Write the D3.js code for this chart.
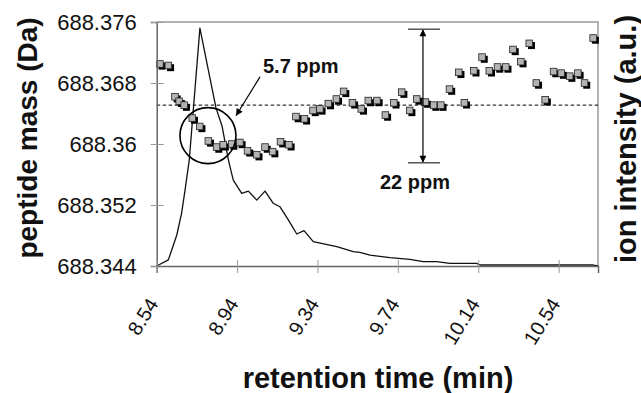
<!DOCTYPE html>
<html><head><meta charset="utf-8">
<script src="https://cdn.jsdelivr.net/npm/d3@7"></script>
<style>body{margin:0;background:#fff}svg{display:block;font-family:"Liberation Sans",Arial,sans-serif}</style>
</head><body><svg id="c" width="641" height="393"></svg>
<script>
// ---- data ----
const times = [8.556,8.598,8.631,8.652,8.677,8.717,8.754,8.797,8.838,8.871,8.913,8.954,8.992,9.038,9.079,9.117,9.156,9.198,9.233,9.275,9.318,9.352,9.394,9.434,9.470,9.514,9.558,9.593,9.636,9.678,9.720,9.759,9.799,9.834,9.877,9.918,9.954,9.997,10.043,10.071,10.118,10.159,10.195,10.236,10.277,10.313,10.352,10.394,10.429,10.473,10.515,10.553,10.595,10.636,10.669,10.712];
const masses = [688.3705,688.3703,688.3662,688.3656,688.3651,688.3634,688.3623,688.3604,688.3596,688.3599,688.3600,688.3602,688.3591,688.3586,688.3596,688.3590,688.3603,688.3599,688.3636,688.3633,688.3644,688.3646,688.3653,688.3659,688.3669,688.3654,688.3646,688.3657,688.3657,688.3638,688.3654,688.3668,688.3644,688.3659,688.3655,688.3651,688.3651,688.3672,688.3694,688.3654,688.3696,688.3714,688.3696,688.3701,688.3701,688.3724,688.3708,688.3732,688.3680,688.3658,688.3695,688.3693,688.3689,688.3693,688.3680,688.3739];
const intensityTimes = [8.540,8.598,8.640,8.664,8.681,8.702,8.755,8.795,8.835,8.865,8.897,8.921,8.963,8.996,9.038,9.079,9.120,9.153,9.195,9.237,9.273,9.319,9.436,9.518,9.551,9.601,9.701,9.800,9.866,9.933,9.999,10.132,10.148,10.712,10.736];
const intensities = [0,2.5,12.7,21.7,31.1,43.4,97.5,81.1,64.8,57.4,43.4,35.2,29.8,30.7,27.0,30.7,25.7,24.3,18.9,13.1,14.5,10.0,7.9,5.9,5.6,4.5,3.4,2.7,1.8,1.8,1.1,1.1,0.4,0.4,0];
const xTickValues = [8.54,8.94,9.34,9.74,10.14,10.54];
const xTickLabels = ["8.54","8.94","9.34","9.74","10.14","10.54"];
const yTickValues = [688.344,688.352,688.36,688.368,688.376];
const yTickLabels = ["688.344","688.352","688.36","688.368","688.376"];
const xDomain = [8.54,10.736];
const yDomain = [688.344,688.376];
const intensityDomain = [0,100];
const referenceMass = 688.3651;
const circleCenter = [8.795,688.3611];
const arrowSmall = [[9.054,688.3688],[8.9345,688.3637]];
const labelSmall = {text:"5.7 ppm", t:9.069, m:688.3693};
const rangeArrow = {t:9.865, top:688.37504, bottom:688.35755};
const labelRange = {text:"22 ppm", t:9.825, m:688.3541};
const xTitle = "retention time (min)";
const yTitle = "peptide mass (Da)";
const y2Title = "ion intensity (a.u.)";

// ---- layout ----
const L=156.7,R=598,T=22,B=266;
const svg=d3.select("#c");
const x=d3.scaleLinear(xDomain,[L,R]);
const y=d3.scaleLinear(yDomain,[B,T]);
const yI=d3.scaleLinear(intensityDomain,[B,T]);

const defs=svg.append("defs");
defs.append("marker").attr("id","ah").attr("viewBox","0 0 10 10").attr("refX",10).attr("refY",5)
  .attr("markerWidth",8).attr("markerHeight",7).attr("markerUnits","userSpaceOnUse").attr("orient","auto-start-reverse")
  .append("path").attr("d","M0,0L10,5L0,10Z").attr("fill","#000");

// plot frame (top/right)
svg.append("path").attr("d",`M${L},${T}H${R}V${B}`).attr("fill","none").attr("stroke","#999").attr("stroke-width",1.5);

// reference dashed line
svg.append("line").attr("x1",L).attr("x2",R).attr("y1",y(referenceMass)).attr("y2",y(referenceMass))
  .attr("stroke","#000").attr("stroke-width",1).attr("stroke-dasharray","3.5,2.5");

// intensity line
svg.append("path").datum(intensityTimes.map((t,i)=>[t,intensities[i]]))
  .attr("d",d3.line().x(d=>x(d[0])).y(d=>yI(d[1])))
  .attr("fill","none").attr("stroke","#111").attr("stroke-width",1.3).attr("stroke-linejoin","round");

// markers
const pts=times.map((t,i)=>[t,masses[i]]);
const mg=svg.append("g");
mg.selectAll("rect.s").data(pts).join("rect").attr("class","s")
  .attr("x",d=>x(d[0])-1.3).attr("y",d=>y(d[1])-1.3).attr("width",7).attr("height",7).attr("fill","#000");
mg.selectAll("rect.m").data(pts).join("rect").attr("class","m")
  .attr("x",d=>x(d[0])-3.3).attr("y",d=>y(d[1])-3.3).attr("width",6.6).attr("height",6.6)
  .attr("fill","#b4b4b4").attr("stroke","#222").attr("stroke-width",0.8);

// circle
svg.append("circle").attr("cx",x(circleCenter[0])).attr("cy",y(circleCenter[1])).attr("r",28)
  .attr("fill","none").attr("stroke","#000").attr("stroke-width",1.6);

// small arrow
svg.append("line").attr("x1",x(arrowSmall[0][0])).attr("y1",y(arrowSmall[0][1]))
  .attr("x2",x(arrowSmall[1][0])).attr("y2",y(arrowSmall[1][1]))
  .attr("stroke","#000").attr("stroke-width",1.2).attr("marker-end","url(#ah)");
svg.append("text").attr("x",x(labelSmall.t)).attr("y",y(labelSmall.m)).text(labelSmall.text)
  .attr("font-size",20).attr("font-weight","bold").attr("fill","#111");

// range arrow
const rx=x(rangeArrow.t);
svg.append("line").attr("x1",rx).attr("x2",rx).attr("y1",y(rangeArrow.top)).attr("y2",y(rangeArrow.bottom))
  .attr("stroke","#000").attr("stroke-width",1.2).attr("marker-start","url(#ah)").attr("marker-end","url(#ah)");
[rangeArrow.top,rangeArrow.bottom].forEach(m=>{
  svg.append("line").attr("x1",rx-15).attr("x2",rx+17).attr("y1",y(m)).attr("y2",y(m))
    .attr("stroke","#555").attr("stroke-width",1.5);
});
svg.append("text").attr("x",x(labelRange.t)).attr("y",y(labelRange.m)).attr("text-anchor","middle")
  .text(labelRange.text).attr("font-size",20).attr("font-weight","bold").attr("fill","#111");

// axes
const ax=svg.append("g").attr("transform",`translate(${L},0)`)
  .call(d3.axisLeft(y).tickValues(yTickValues).tickFormat((d,i)=>yTickLabels[i]).tickSize(6).tickPadding(14));
ax.select(".domain").attr("stroke","#666").attr("stroke-width",1.5);
ax.selectAll(".tick line").attr("x1",-6).attr("x2",7).attr("stroke","#999");
ax.selectAll(".tick text").attr("font-size",22).attr("font-family","Liberation Sans, Arial, sans-serif").attr("fill","#111");

const bx=svg.append("g").attr("transform",`translate(0,${B})`)
  .call(d3.axisBottom(x).tickValues(xTickValues).tickFormat((d,i)=>xTickLabels[i]).tickSize(7));
bx.select(".domain").attr("stroke","#666").attr("stroke-width",1.5);
bx.selectAll(".tick line").attr("y1",-6).attr("y2",7).attr("stroke","#999");
bx.selectAll(".tick text").attr("font-size",20).attr("font-family","Liberation Sans, Arial, sans-serif").attr("fill","#111")
  .attr("text-anchor","end").attr("y",null).attr("dy","0.35em").attr("transform","translate(-4,34) rotate(-58)");

// titles
svg.append("text").attr("x",378).attr("y",388).attr("text-anchor","middle").text(xTitle)
  .attr("font-size",29).attr("font-weight","bold").attr("fill","#111");
svg.append("text").attr("transform","translate(37,138) rotate(-90)").attr("text-anchor","middle").text(yTitle)
  .attr("font-size",28).attr("font-weight","bold").attr("fill","#111");
svg.append("text").attr("transform","translate(636,139) rotate(-90)").attr("text-anchor","middle").text(y2Title)
  .attr("font-size",29).attr("font-weight","bold").attr("fill","#111");
</script></body></html>
